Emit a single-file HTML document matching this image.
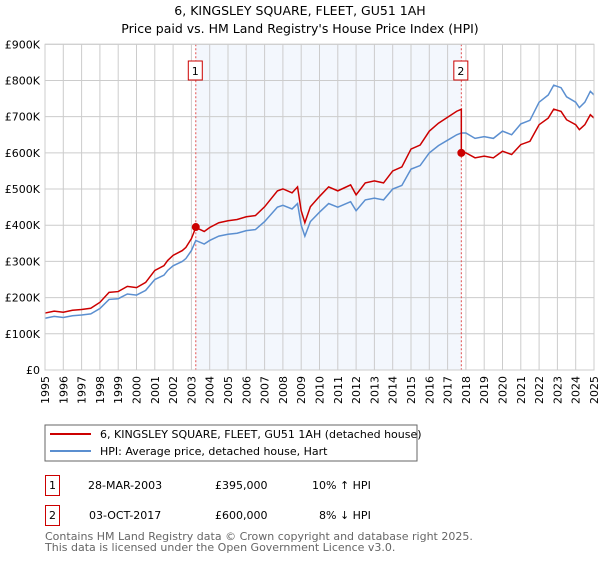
<!DOCTYPE html>
<html><head><meta charset="utf-8"><style>
body{margin:0;width:600px;height:560px;background:#fff;font-family:"DejaVu Sans","Liberation Sans",sans-serif;overflow:hidden}
svg text{font-family:"DejaVu Sans","Liberation Sans",sans-serif}
</style></head><body>
<svg id="c" width="600" height="560">
<text x="300" y="15" text-anchor="middle" font-size="12.5">6, KINGSLEY SQUARE, FLEET, GU51 1AH</text>
<text x="300" y="33" text-anchor="middle" font-size="12.5">Price paid vs. HM Land Registry's House Price Index (HPI)</text>
<g id="plot"></g>
<rect x="45" y="425" width="372" height="36" fill="#fff" stroke="#666"/>
<line x1="50" y1="434" x2="91" y2="434" stroke="#cc0000" stroke-width="2"/>
<text x="100" y="438" font-size="11">6, KINGSLEY SQUARE, FLEET, GU51 1AH (detached house)</text>
<line x1="50" y1="451" x2="91" y2="451" stroke="#5b8fd0" stroke-width="2"/>
<text x="100" y="455" font-size="11">HPI: Average price, detached house, Hart</text>
<g font-size="11">
<rect x="45.5" y="475.5" width="14" height="20" fill="none" stroke="#cc0000"/>
<text x="52.5" y="489" text-anchor="middle">1</text>
<text x="88" y="489">28-MAR-2003</text>
<text x="215" y="489">£395,000</text>
<text x="312" y="489">10% ↑ HPI</text>
<rect x="45.5" y="505.5" width="14" height="20" fill="none" stroke="#cc0000"/>
<text x="52.5" y="519" text-anchor="middle">2</text>
<text x="89" y="519">03-OCT-2017</text>
<text x="215" y="519">£600,000</text>
<text x="319" y="519">8% ↓ HPI</text>
</g>
<text x="45" y="540" font-size="11" fill="#666">Contains HM Land Registry data © Crown copyright and database right 2025.</text>
<text x="45" y="551" font-size="11" fill="#666">This data is licensed under the Open Government Licence v3.0.</text>
</svg>
<script>
const yearTicks=[1995,1996,1997,1998,1999,2000,2001,2002,2003,2004,2005,2006,2007,2008,2009,2010,2011,2012,2013,2014,2015,2016,2017,2018,2019,2020,2021,2022,2023,2024,2025];
const valueTicks=[0,100,200,300,400,500,600,700,800,900];
const valueTickLabels=["£0","£100K","£200K","£300K","£400K","£500K","£600K","£700K","£800K","£900K"];
const hpiDates=[1995,1995.5,1996,1996.5,1997,1997.5,1998,1998.5,1999,1999.5,2000,2000.5,2001,2001.5,2001.7,2002,2002.5,2002.7,2003,2003.24,2003.7,2004,2004.5,2005,2005.5,2006,2006.5,2007,2007.7,2008,2008.5,2008.8,2009,2009.2,2009.5,2010,2010.5,2011,2011.7,2012,2012.5,2013,2013.5,2014,2014.5,2015,2015.5,2016,2016.5,2017,2017.5,2017.75,2018,2018.5,2019,2019.5,2020,2020.5,2021,2021.5,2022,2022.5,2022.8,2023.2,2023.5,2024,2024.2,2024.5,2024.8,2025];
const hpiValues=[143,148,145,150,152,155,170,195,197,210,207,220,250,262,275,288,300,308,330,358,348,358,370,375,378,385,388,410,450,455,445,460,400,370,410,436,460,450,465,440,470,475,470,500,510,555,565,600,620,635,650,655,655,640,645,640,660,650,680,690,740,760,787,780,755,740,725,740,770,760];
const saleDates=[2003.24,2017.75];
const salePrices=[395,600];
const saleRatios=[1.10,0.916];

const X0=45,X1=594,Y0=370,Y1=44.3;
const x=d=>X0+(d-1995)/(2025-1995)*(X1-X0);
const y=v=>Y0-v/900*(Y0-Y1);
const NS="http://www.w3.org/2000/svg";
const g=document.getElementById('plot');
function mk(t,a){const e=document.createElementNS(NS,t);for(const k in a)e.setAttribute(k,a[k]);g.appendChild(e);return e;}

let e=mk('rect',{x:x(saleDates[0]),y:Y1,width:x(saleDates[1])-x(saleDates[0]),height:Y0-Y1,fill:'#eef3fc',opacity:0.7});


yearTicks.forEach(t=>{
  const l=mk('line',{x1:x(t),x2:x(t),y1:Y1,y2:Y0,stroke:'#ccc','stroke-width':1});
  
  
  const tx=mk('text',{x:0,y:0,'font-size':11,'text-anchor':'end',transform:`translate(${x(t)+4},${Y0+6}) rotate(-90)`});
  tx.textContent=t;
  
  
});
valueTicks.forEach((v,i)=>{
  const l=mk('line',{x1:X0,x2:X1,y1:y(v),y2:y(v),stroke:'#ccc','stroke-width':1});
  
  
  const tx=mk('text',{x:40,y:y(v)+4,'font-size':11,'text-anchor':'end'});
  tx.textContent=valueTickLabels[i];
  
  
});
saleDates.forEach((d,i)=>{
  const l=mk('line',{x1:x(d),x2:x(d),y1:Y1,y2:Y0,stroke:'#e05050','stroke-width':1,'stroke-dasharray':'2,2'});
  
  
  const r=mk('rect',{x:x(d)-7.5,y:61,width:14,height:19,fill:'#fff',stroke:'#cc0000'});
  
  
  const t=mk('text',{x:x(d)-0.5,y:75,'font-size':11,'text-anchor':'middle'});
  t.textContent=String(i+1);
  
  
});
const hp=mk('polyline',{points:hpiDates.map((d,i)=>x(d)+','+y(hpiValues[i])).join(' '),fill:'none',stroke:'#5b8fd0','stroke-width':1.5});


const pts=[];
hpiDates.forEach((d,i)=>{
  if(d<saleDates[1]) pts.push([d,hpiValues[i]*saleRatios[0]]);
  else if(d===saleDates[1]){pts.push([d,hpiValues[i]*saleRatios[0]]);pts.push([d,salePrices[1]]);}
  else pts.push([d,hpiValues[i]*saleRatios[1]]);
});
const pp=mk('polyline',{points:pts.map(p=>x(p[0])+','+y(p[1])).join(' '),fill:'none',stroke:'#cc0000','stroke-width':1.5});


saleDates.forEach((d,i)=>{
  const c=mk('circle',{cx:x(d),cy:y(salePrices[i]),r:4,fill:'#cc0000'});
  
  
});
const b=mk('rect',{x:X0,y:Y1,width:X1-X0,height:Y0-Y1,fill:'none',stroke:'#ccc'});


</script>
</body></html>
